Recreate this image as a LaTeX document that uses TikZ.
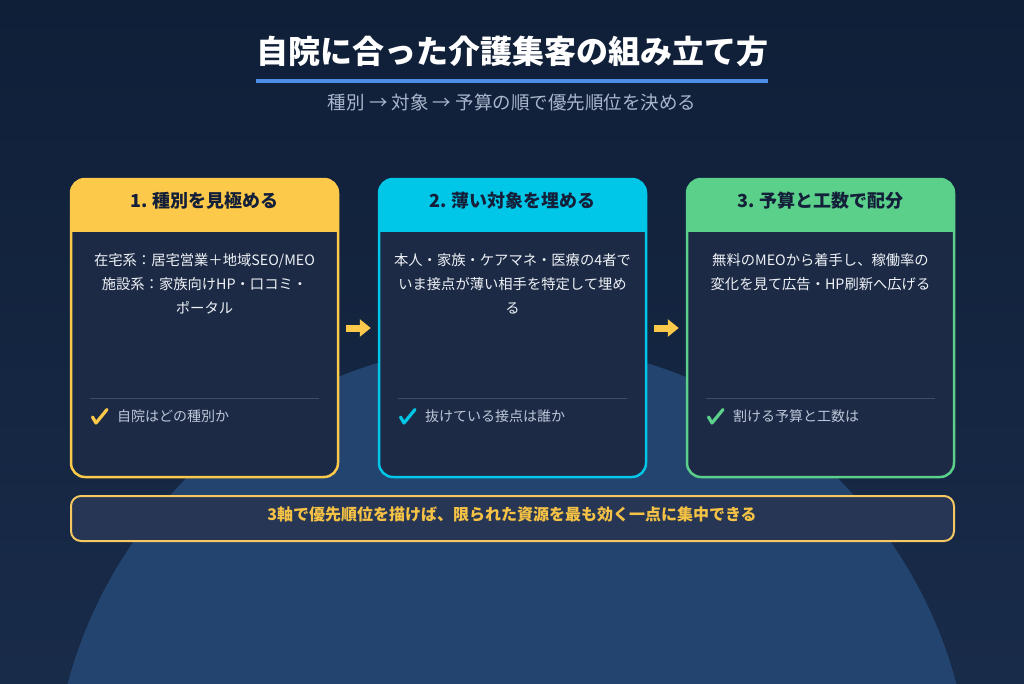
\documentclass[tikz,border=0pt]{standalone}
\usepackage{fontspec}
\setmainfont{Noto Sans CJK JP}
\usetikzlibrary{arrows.meta}
\definecolor{bgtop}{HTML}{101F38}
\definecolor{bgbot}{HTML}{182B49}
\definecolor{circ}{HTML}{22446E}
\definecolor{cardbody}{HTML}{1D2A45}
\definecolor{cyel}{HTML}{FCC94A}
\definecolor{ccya}{HTML}{00C6E8}
\definecolor{cgrn}{HTML}{5AD08A}
\definecolor{headtxt}{HTML}{14203A}
\definecolor{bodytxt}{HTML}{EEF2F7}
\definecolor{chktxt}{HTML}{BCC6D8}
\definecolor{septc}{HTML}{3D4D6A}
\definecolor{subc}{HTML}{A9B6CB}
\definecolor{uline}{HTML}{4D8FE6}
\definecolor{boxfill}{HTML}{263654}
\definecolor{boxline}{HTML}{F5C862}
\definecolor{boxtxt}{HTML}{F5C245}
\tikzset{
  headtext/.style={font=\fontsize{18}{22}\selectfont\bfseries, text=headtxt, inner sep=0},
  bodytext/.style={font=\fontsize{14.3}{24}\selectfont, text=bodytxt, align=center, inner sep=0, anchor=north},
  chktext/.style={font=\fontsize{14}{18}\selectfont, text=chktxt, inner sep=0, anchor=west},
  flowarrow/.style={draw=cyel, line width=7pt, -{Triangle[length=11pt,width=17pt]}, shorten <=7pt, shorten >=7pt},
  cardframe/.style={rectangle, rounded corners=14pt, line width=2.5pt, minimum width=267pt, minimum height=298pt, inner sep=0},
  sepline/.style={draw=septc, line width=1pt},
  chkmark/.style={line width=3.2pt, line cap=round, line join=round}
}
\begin{document}
\begin{tikzpicture}[x=1pt,y=-1pt]
\useasboundingbox (0,0) rectangle (1024,683);
\shade[top color=bgtop, bottom color=bgbot] (0,0) rectangle (1024,683);
\begin{scope}
\clip (0,0) rectangle (1024,683);
\fill[circ] (512,803) circle[radius=460];
\end{scope}

% title
\node[font=\fontsize{32}{36}\selectfont\bfseries, text=white, inner sep=0] (title) at (512,51) {自院に合った介護集客の組み立て方};
\draw[uline, line width=4pt] (256,80.5) -- (768,80.5);
\node[font=\fontsize{18.5}{22}\selectfont, text=subc, inner sep=0] (sub) at (512,102) {種別 → 対象 → 予算の順で優先順位を決める};

% card fills: header and body
\foreach \cx/\col in {204.5/cyel, 512.5/ccya, 820.5/cgrn}{
  \begin{scope}
    \clip (\cx-140,170) rectangle (\cx+140,232);
    \fill[\col, rounded corners=14pt] (\cx-133.5,179) rectangle (\cx+133.5,477);
  \end{scope}
  \begin{scope}
    \clip (\cx-140,232) rectangle (\cx+140,490);
    \fill[cardbody, rounded corners=14pt] (\cx-133.5,179) rectangle (\cx+133.5,477);
  \end{scope}
}
\node[cardframe, draw=cyel] (card1) at (204.5,328) {};
\node[cardframe, draw=ccya] (card2) at (512.5,328) {};
\node[cardframe, draw=cgrn] (card3) at (820.5,328) {};

% headers
\node[headtext] (h1) at (204.5,201) {1. 種別を見極める};
\node[headtext] (h2) at (512.5,201) {2. 薄い対象を埋める};
\node[headtext] (h3) at (820.5,201) {3. 予算と工数で配分};

% body text
\node[bodytext] (b1) at (204.5,253) {在宅系：居宅営業＋地域SEO/MEO\\施設系：家族向けHP・口コミ・\\ポータル};
\node[bodytext] (b2) at (512.5,253) {本人・家族・ケアマネ・医療の4者で\\いま接点が薄い相手を特定して埋め\\る};
\node[bodytext] (b3) at (820.5,253) {無料のMEOから着手し、稼働率の\\変化を見て広告・HP刷新へ広げる};

% separators
\draw[sepline] (90,398) -- (319,398);
\draw[sepline] (398,398) -- (627,398);
\draw[sepline] (706,398) -- (935,398);

% checks
\draw[chkmark, cyel] (92.5,417) -- (96,423) -- (107,409.5);
\node[chktext] (k1) at (117,416) {自院はどの種別か};
\draw[chkmark, ccya] (400.5,417) -- (404,423) -- (415,409.5);
\node[chktext] (k2) at (425,416) {抜けている接点は誰か};
\draw[chkmark, cgrn] (708.5,417) -- (712,423) -- (723,409.5);
\node[chktext] (k3) at (733,416) {割ける予算と工数は};

% flow arrows
\draw[flowarrow] (card1.east) -- (card2.west);
\draw[flowarrow] (card2.east) -- (card3.west);

% bottom box
\node[draw=boxline, line width=2pt, fill=boxfill, rounded corners=10pt, minimum width=883pt, minimum height=45pt, inner sep=0] (summary) at (512.5,518.5) {};
\node[font=\fontsize{16}{18}\selectfont\bfseries, text=boxtxt, inner sep=0] (stext) at (512,514) {3軸で優先順位を描けば、限られた資源を最も効く一点に集中できる};
\end{tikzpicture}
\end{document}
